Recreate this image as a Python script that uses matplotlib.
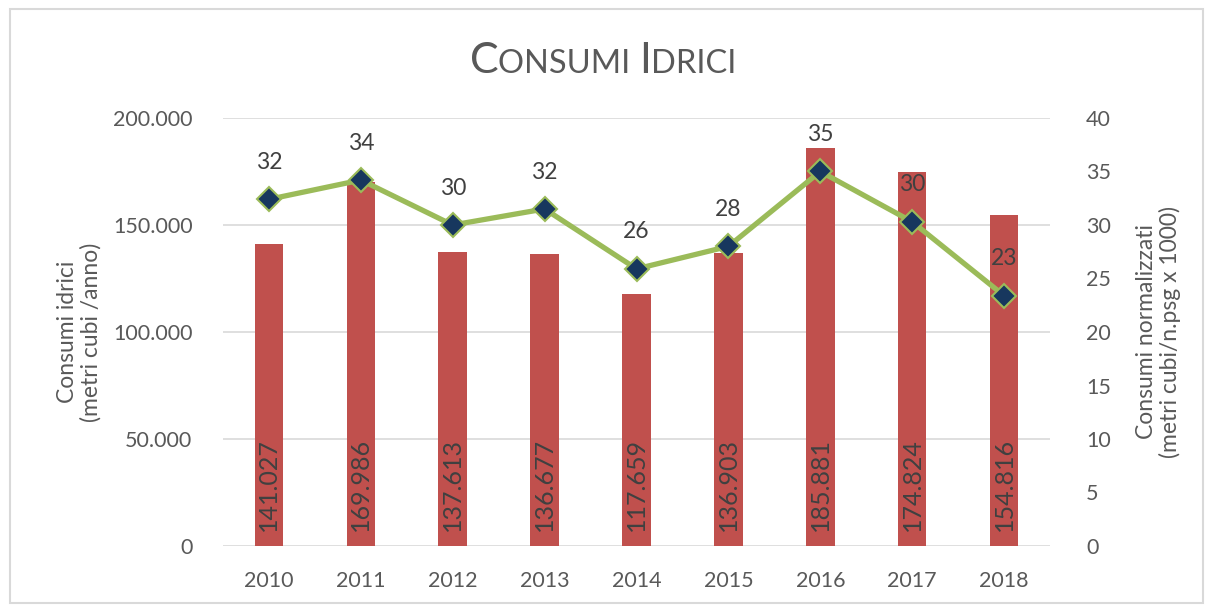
import matplotlib
matplotlib.use("Agg")
import matplotlib.pyplot as plt
from matplotlib.patches import Rectangle
from matplotlib.ticker import FuncFormatter

plt.rcParams["font.family"] = ["Lato", "DejaVu Sans"]

anni = ["2010", "2011", "2012", "2013", "2014", "2015", "2016", "2017", "2018"]
consumi = [141027, 169986, 137613, 136677, 117659, 136903, 185881, 174824, 154816]
normalizzati = [32.4, 34.2, 30.0, 31.5, 25.9, 28.0, 35.0, 30.3, 23.4]

GRIGIO = "#595959"
TESTO = "#404040"
ROSSO = "#c0504d"
VERDE = "#9bbb59"
BLU = "#17375e"


def migliaia(v, pos=None):
    return f"{v:,.0f}".replace(",", ".")


fig = plt.figure(figsize=(12.06, 6.06), dpi=100)
fig.patches.append(Rectangle((10 / 1206, 3 / 606), 1193 / 1206, 594 / 606,
                             transform=fig.transFigure, fill=False,
                             edgecolor="#d9d9d9", linewidth=1.5))

ax = fig.add_axes([223 / 1206, 60 / 606, 827 / 1206, 428 / 606])
x = list(range(len(anni)))

ax.bar(x, consumi, width=0.31, color=ROSSO, zorder=2)
ax.set_ylim(0, 200000)
ax.set_xlim(-0.5, len(anni) - 0.5)
ax.set_yticks([0, 50000, 100000, 150000, 200000])
ax.yaxis.set_major_formatter(FuncFormatter(migliaia))
ax.set_xticks(x)
ax.set_xticklabels(anni)
ax.grid(axis="y", color="#d9d9d9", linewidth=1.2, zorder=0)
ax.set_axisbelow(True)
for s in ax.spines.values():
    s.set_visible(False)
ax.tick_params(axis="both", length=0, labelsize=15.5, colors=GRIGIO)
ax.tick_params(axis="y", pad=22)
ax.tick_params(axis="x", pad=18)
ax.set_ylabel("Consumi idrici\n(metri cubi /anno)", fontsize=16.5, color=GRIGIO,
              labelpad=8, linespacing=1.1)

for xi, v in zip(x, consumi):
    ax.text(xi, 7000, migliaia(v), rotation=90, ha="center", va="bottom",
            fontsize=18, color=TESTO, zorder=3)

ax2 = ax.twinx()
ax2.plot(x, normalizzati, color=VERDE, linewidth=3.8, marker="D", markersize=12,
         markerfacecolor=BLU, markeredgecolor=VERDE, markeredgewidth=1.5, zorder=4)
ax2.set_ylim(0, 40)
ax2.set_yticks(range(0, 41, 5))
for s in ax2.spines.values():
    s.set_visible(False)
ax2.tick_params(axis="y", length=0, labelsize=15.5, colors=GRIGIO, pad=26)
ax2.set_ylabel("Consumi normalizzati\n(metri cubi/n.psg x 1000)", fontsize=16.5,
               color=GRIGIO, labelpad=18, linespacing=1.1)

for xi, v in zip(x, normalizzati):
    ax2.annotate(f"{v:.0f}", (xi, v), xytext=(0, 19), textcoords="offset points",
                 ha="center", va="bottom", fontsize=16.5, color=TESTO)

# titolo in maiuscoletto: iniziali grandi, resto piu' piccolo
pezzi = [("C", 31), ("ONSUMI ", 23.5), ("I", 31), ("DRICI", 23.5)]
testi = [fig.text(0, 1 - 73 / 606, t, fontsize=fs, color=GRIGIO, ha="left",
                  va="baseline") for t, fs in pezzi]
fig.canvas.draw()
r = fig.canvas.get_renderer()
larghezze = [t.get_window_extent(r).width for t in testi]
sx = (1206 - sum(larghezze)) / 2
for t, w in zip(testi, larghezze):
    t.set_x(sx / 1206)
    sx += w

fig.savefig("out.png", dpi=100)
